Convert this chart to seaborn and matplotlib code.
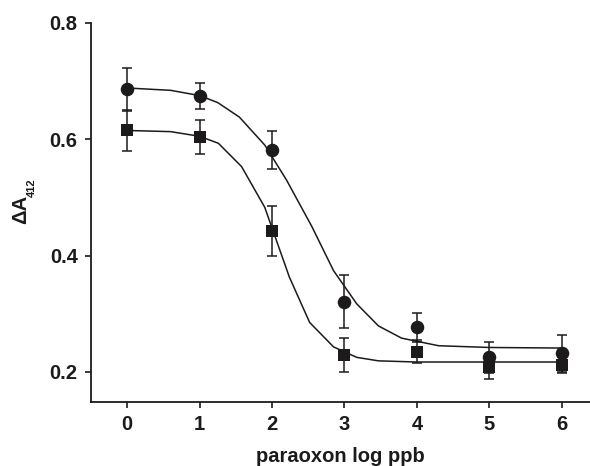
import numpy as np
import pandas as pd
import matplotlib
matplotlib.use("Agg")
import matplotlib.pyplot as plt
import seaborn as sns

# measured points (log ppb paraoxon)
log_ppb = [0, 1, 2, 3, 4, 5, 6]
circle_mean = [0.686, 0.674, 0.581, 0.321, 0.277, 0.225, 0.232]
circle_err = [0.037, 0.022, 0.033, 0.045, 0.025, 0.027, 0.032]
square_mean = [0.615, 0.604, 0.443, 0.229, 0.235, 0.209, 0.212]
square_err = [0.036, 0.029, 0.043, 0.029, 0.020, 0.022, 0.014]

# fitted curves
circle_fit_x = [0, 0.6, 1.0, 1.25, 1.55, 1.9, 2.2, 2.55, 2.85, 3.17, 3.47, 3.79, 4.3, 5.0, 6.0]
circle_fit_y = [0.688, 0.684, 0.675, 0.663, 0.638, 0.59, 0.53, 0.45, 0.374, 0.317, 0.279, 0.258, 0.245, 0.242, 0.241]
square_fit_x = [0, 0.6, 1.0, 1.26, 1.58, 1.9, 2.24, 2.52, 2.85, 3.17, 3.47, 4.0, 5.0, 6.0]
square_fit_y = [0.615, 0.613, 0.605, 0.593, 0.553, 0.483, 0.363, 0.285, 0.243, 0.225, 0.219, 0.217, 0.217, 0.217]

sns.set_style("ticks")
plt.rcParams["font.family"] = ["Liberation Sans", "DejaVu Sans"]
plt.rcParams["font.weight"] = "bold"

ink = "#1c1a1b"

fig = plt.figure(figsize=(5.9, 4.66), dpi=100)
ax = fig.add_axes([0.154, 0.137, 0.846, 0.814])

# fitted curves
sns.lineplot(x=circle_fit_x, y=circle_fit_y, ax=ax, color=ink, lw=1.1, zorder=2)
sns.lineplot(x=square_fit_x, y=square_fit_y, ax=ax, color=ink, lw=1.1, zorder=2)

# error bars
ax.errorbar(log_ppb, circle_mean, yerr=circle_err, fmt="none", ecolor=ink,
            elinewidth=1.1, capsize=3.5, capthick=1.1, zorder=3)
ax.errorbar(log_ppb, square_mean, yerr=square_err, fmt="none", ecolor=ink,
            elinewidth=1.1, capsize=3.5, capthick=1.1, zorder=3)

# markers
pts = pd.DataFrame({"x": log_ppb * 2,
                    "y": circle_mean + square_mean,
                    "set": ["circle"] * 7 + ["square"] * 7})
sns.scatterplot(data=pts[pts.set == "circle"], x="x", y="y", marker="o", s=95,
                color=ink, edgecolor=ink, linewidth=0, ax=ax, zorder=4, legend=False)
sns.scatterplot(data=pts[pts.set == "square"], x="x", y="y", marker="s", s=78,
                color=ink, edgecolor=ink, linewidth=0, ax=ax, zorder=4, legend=False)

ax.set_xlim(-0.5, 6.39)
ax.set_ylim(0.148, 0.8)
ax.set_xticks(log_ppb)
ax.set_yticks([0.2, 0.4, 0.6, 0.8])
ax.set_yticklabels(["0.2", "0.4", "0.6", "0.8"])
ax.tick_params(labelsize=14.5, width=1.2, length=4.5, color=ink, labelcolor=ink, pad=5)
for s in ["left", "bottom"]:
    ax.spines[s].set_linewidth(1.3)
    ax.spines[s].set_color(ink)
sns.despine(ax=ax)

ax.set_xlabel("paraoxon log ppb", fontsize=14.5, fontweight="bold", color=ink, labelpad=9)
ax.set_ylabel("")
fig.text(0.0356, 0.5515, "\u0394A", rotation=90, ha="center", va="center",
         fontsize=14.5, fontweight="bold", color=ink)
fig.text(0.0535, 0.597, "412", rotation=90, ha="center", va="center",
         fontsize=8, fontweight="bold", color=ink)

fig.savefig("out.png", dpi=100)
